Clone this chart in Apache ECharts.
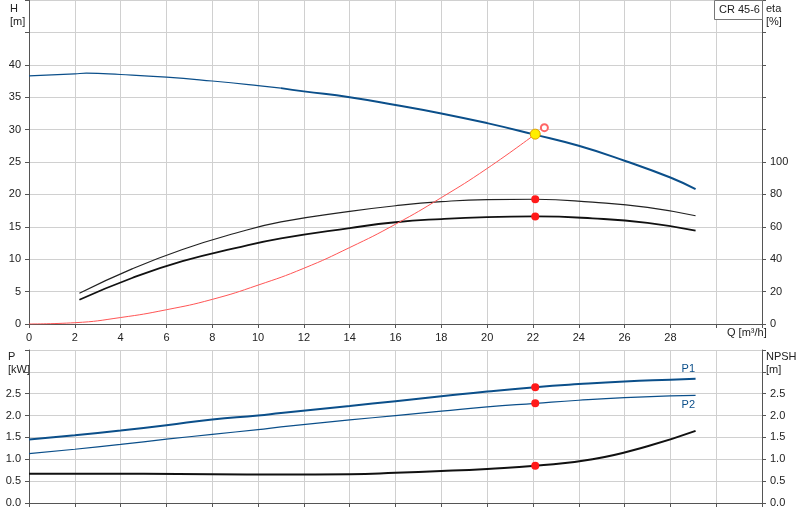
<!DOCTYPE html>
<html><head><meta charset="utf-8">
<script src="https://cdn.jsdelivr.net/npm/echarts@6/dist/echarts.min.js"></script>
<style>html,body{margin:0;background:#fff}#c{width:800px;height:520px}</style>
</head><body><div id="c"></div>
<script>
const headThin=[[0,38.3],[2,38.6],[2.5,38.7],[4,38.5],[6,38.1],[8,37.5],[10,36.8],[11,36.4]];
const headThick=[[11,36.4],[12,35.9],[14,35.0],[16,33.8],[18,32.5],[20,31.0],[22,29.3],[24,27.5],[26,25.2],[28,22.6],[29.1,20.8]];
const etaUpper=[[2.2,19],[4.5,34],[6.7,46],[9,56],[11,63],[14,69.5],[16,73],[18,75.5],[20,76.8],[22.1,77],[24.6,75.2],[27,72],[29.1,66.8]];
const etaLower=[[2.2,15],[4.5,28.4],[6.7,38.8],[9,46.8],[11,52.8],[14,59.2],[16,62.8],[18,64.8],[20,66],[22.1,66.4],[24.6,65.2],[27,62.4],[29.1,57.6]];
const system=[[0,0],[2,0.2],[4,1.0],[6,2.2],[8,3.8],[10,6.0],[12,8.6],[14,11.8],[16,15.4],[18,19.5],[20,24.0],[22.1,29.3]];
const duty=[22.1,29.3], dutyReq=[22.5,30.3];
const etaDots=[[22.1,77],[22.1,66.4]];
const p1=[[0,1.45],[2,1.55],[4,1.66],[6,1.78],[8,1.91],[10,2.0],[11,2.06],[14,2.22],[16,2.33],[18,2.44],[20,2.55],[22.1,2.65],[24,2.72],[26,2.78],[28,2.82],[29.1,2.84]];
const p2=[[0,1.13],[2,1.23],[4,1.34],[6,1.46],[8,1.57],[10,1.68],[11,1.74],[14,1.90],[16,2.0],[18,2.10],[20,2.2],[22.1,2.28],[24,2.35],[26,2.41],[28,2.45],[29.1,2.46]];
const npsh=[[0,0.67],[5,0.67],[11,0.65],[14,0.66],[16,0.69],[18,0.73],[20,0.78],[22.1,0.85],[24.6,1.0],[27,1.3],[29.1,1.65]];
const bottomDots=[[22.1,2.65],[22.1,2.28],[22.1,0.85]];

const blue='#0b4f8a', grid='#d0d0d0', ax='#555';
const F='Arial, Liberation Sans, sans-serif';
const xBase=(i,show)=>({type:'value',gridIndex:i,min:0,max:32,interval:2,
  axisLine:{lineStyle:{color:ax}},axisTick:{show:true,inside:false,length:4,lineStyle:{color:ax}},
  axisLabel:{show:show,color:'#222',fontSize:11,fontFamily:F,formatter:v=>v>=30?'':v},
  splitLine:{show:true,lineStyle:{color:grid}}});
const yAx=(i,max,iv,lim,pos,split,fmt)=>({type:'value',gridIndex:i,min:0,max:max,interval:iv,position:pos,
  axisLine:{show:true,lineStyle:{color:ax}},axisTick:{show:true,length:4,lineStyle:{color:ax}},
  axisLabel:{color:'#222',fontSize:11,fontFamily:F,formatter:v=>v>lim+1e-9?'':(fmt?fmt(v):v)},
  splitLine:{show:split,lineStyle:{color:grid,width:1}}});
const opt={
  animation:false,
  grid:[{left:29,right:38,top:0,height:324},{left:29,right:38,top:350,height:153}],
  xAxis:[xBase(0,true),xBase(1,false)],
  yAxis:[yAx(0,50,5,40,'left',true),yAx(0,200,20,100,'right',false),
         yAx(1,3.5,0.5,2.5,'left',true,v=>v.toFixed(1)),yAx(1,3.5,0.5,2.5,'right',false,v=>v.toFixed(1))],
  graphic:[
    {type:'text',left:10,top:2,style:{text:'H\n[m]',fontSize:11,fontFamily:F,fill:'#222',lineHeight:13}},
    {type:'text',left:766,top:2,style:{text:'eta\n[%]',fontSize:11,fontFamily:F,fill:'#222',lineHeight:13}},
    {type:'text',left:727,top:327,style:{text:'Q [m³/h]',fontSize:11,fontFamily:F,fill:'#222'}},
    {type:'text',left:8,top:350,style:{text:'P\n[kW]',fontSize:11,fontFamily:F,fill:'#222',lineHeight:13}},
    {type:'text',left:766,top:350,style:{text:'NPSH\n[m]',fontSize:11,fontFamily:F,fill:'#222',lineHeight:13}},
    {type:'rect',left:714,top:0,z:10,shape:{width:48,height:19},style:{fill:'#fff',stroke:'#777'}},
    {type:'text',left:719,top:4,z:11,style:{text:'CR 45-6',fontSize:11,fontFamily:F,fill:'#222'}}
  ],
  series:[
    {type:'line',data:headThin,xAxisIndex:0,yAxisIndex:0,smooth:true,symbol:'none',lineStyle:{color:blue,width:1.2}},
    {type:'line',data:headThick,xAxisIndex:0,yAxisIndex:0,smooth:true,symbol:'none',lineStyle:{color:blue,width:2}},
    {type:'line',data:etaUpper,xAxisIndex:0,yAxisIndex:1,smooth:true,symbol:'none',lineStyle:{color:'#222',width:1.2}},
    {type:'line',data:etaLower,xAxisIndex:0,yAxisIndex:1,smooth:true,symbol:'none',lineStyle:{color:'#111',width:1.8}},
    {type:'line',data:system,xAxisIndex:0,yAxisIndex:0,smooth:true,symbol:'none',lineStyle:{color:'#ff5555',width:1}},
    {type:'scatter',data:etaDots,xAxisIndex:0,yAxisIndex:1,symbolSize:8,itemStyle:{color:'#ff1a1a',opacity:1},z:10},
    {type:'scatter',data:[duty],xAxisIndex:0,yAxisIndex:0,symbolSize:10,itemStyle:{color:'#ffee00',borderColor:'#e0a000',borderWidth:1,opacity:1},z:10},
    {type:'scatter',data:[dutyReq],xAxisIndex:0,yAxisIndex:0,symbol:'emptyCircle',symbolSize:7,itemStyle:{color:'#ff6666',opacity:1},z:10},
    {type:'line',data:p1,xAxisIndex:1,yAxisIndex:2,smooth:true,symbol:'none',lineStyle:{color:blue,width:2},
      endLabel:{show:true,formatter:'P1',color:blue,fontSize:11,fontFamily:F,offset:[-22,-10]}},
    {type:'line',data:p2,xAxisIndex:1,yAxisIndex:2,smooth:true,symbol:'none',lineStyle:{color:blue,width:1.2},
      endLabel:{show:true,formatter:'P2',color:blue,fontSize:11,fontFamily:F,offset:[-22,10]}},
    {type:'line',data:npsh,xAxisIndex:1,yAxisIndex:3,smooth:true,symbol:'none',lineStyle:{color:'#111',width:2}},
    {type:'scatter',data:bottomDots,xAxisIndex:1,yAxisIndex:2,symbolSize:8,itemStyle:{color:'#ff1a1a',opacity:1},z:10}
  ]
};
echarts.init(document.getElementById('c')).setOption(opt);
</script></body></html>
